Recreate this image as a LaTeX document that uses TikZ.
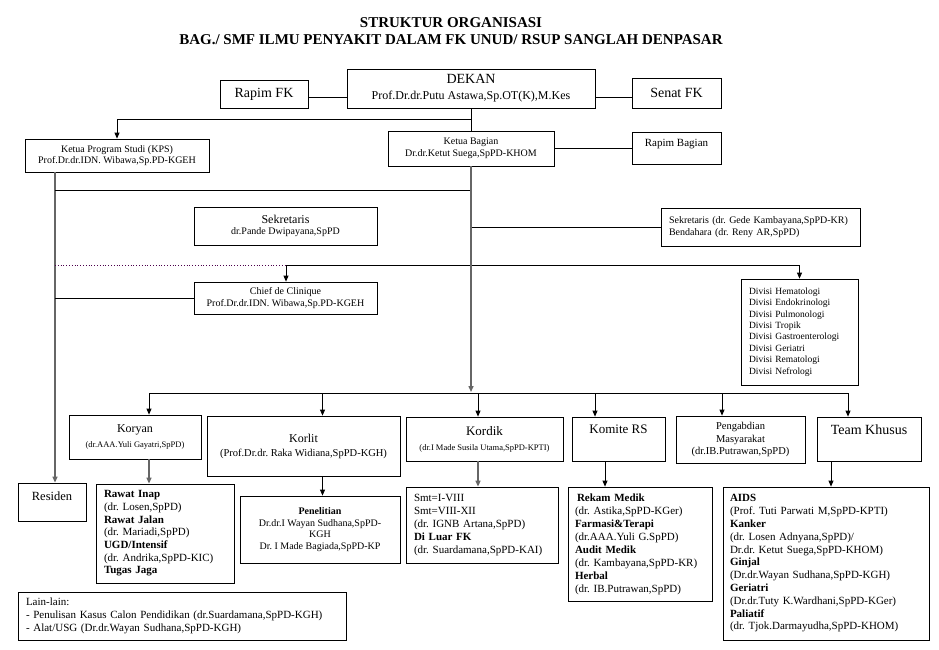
\documentclass[tikz,border=0pt]{standalone}
\usepackage{fontspec}
\setmainfont{Liberation Serif}
\usetikzlibrary{arrows.meta,positioning}
\frenchspacing

\tikzset{
  box/.style={draw, line width=0.8pt, inner sep=2pt, align=center, font=\fontsize{10}{11.7}\selectfont},
  lbox/.style={box, align=left, text width=#1},
  link/.style={line width=0.8pt},
  arr/.style={-{Triangle[length=6pt,width=5pt]}},
  trunk/.style={line width=1.4pt, draw=gray!80!black, fill=gray!80!black},
  dotline/.style={line width=0.8pt, dotted, draw=violet!60!black},
}

\begin{document}
\begin{tikzpicture}[x=1pt,y=-1pt]
  \useasboundingbox (0,0) rectangle (939,649);

  \node[font=\bfseries\fontsize{15}{17}\selectfont, align=center] (title) at (451,31)
    {STRUKTUR ORGANISASI\\BAG./ SMF ILMU PENYAKIT DALAM FK UNUD/ RSUP SANGLAH DENPASAR};

  \node[box, font=\fontsize{14}{16}\selectfont, minimum width=88pt, minimum height=28pt] (rapimfk) at (264,94) {Rapim FK};
  \node[box, font=\fontsize{14}{16}\selectfont, minimum width=248pt, minimum height=39pt] (dekan) at (471,88.5)
    {DEKAN\\{\fontsize{12}{14}\selectfont Prof.Dr.dr.Putu Astawa,Sp.OT(K),M.Kes}};
  \node[box, font=\fontsize{14}{16}\selectfont, minimum width=89pt, minimum height=30pt] (senatfk) at (676.5,93) {Senat FK};

  \node[box, minimum width=184pt, minimum height=33pt] (kps) at (117,155.5)
    {Ketua Program Studi (KPS)\\Prof.Dr.dr.IDN. Wibawa,Sp.PD-KGEH};
  \node[box, minimum width=166pt, minimum height=35pt] (ketua) at (471,148.5)
    {Ketua Bagian\\Dr.dr.Ketut Suega,SpPD-KHOM};
  \node[box, minimum width=89pt, minimum height=32pt,
    label={[anchor=north,yshift=-4pt]north:\fontsize{11}{13}\selectfont Rapim Bagian}] (rapimbag) at (676.5,148) {};

  \node[box, minimum width=183pt, minimum height=38pt] (sekre) at (285.5,226)
    {{\fontsize{12}{14}\selectfont Sekretaris}\\dr.Pande Dwipayana,SpPD};
  \node[lbox=183pt, minimum width=199pt, minimum height=38pt] (sekbend) at (760.5,227)
    {Sekretaris (dr. Gede Kambayana,SpPD-KR)\\Bendahara (dr. Reny AR,SpPD)};

  \node[box, minimum width=183pt, minimum height=32pt] (chief) at (285.5,298)
    {Chief de Clinique\\Prof.Dr.dr.IDN. Wibawa,Sp.PD-KGEH};
  \node[lbox=101pt, font=\fontsize{9.5}{11.4}\selectfont, minimum width=117pt, minimum height=106pt] (divisi) at (799.5,332)
    {Divisi Hematologi\\Divisi Endokrinologi\\Divisi Pulmonologi\\Divisi Tropik\\Divisi Gastroenterologi\\Divisi Geriatri\\Divisi Rematologi\\Divisi Nefrologi};

  \node[box, font=\fontsize{12}{14}\selectfont, minimum width=132pt, minimum height=44pt] (koryan) at (135,437)
    {Koryan\\[1pt]{\fontsize{8.5}{10}\selectfont (dr.AAA.Yuli Gayatri,SpPD)}};
  \node[box, font=\fontsize{12}{14}\selectfont, minimum width=193pt, minimum height=60pt] (korlit) at (303.5,446)
    {Korlit\\{\fontsize{10.5}{12}\selectfont (Prof.Dr.dr. Raka Widiana,SpPD-KGH)}};
  \node[box, font=\fontsize{13}{15}\selectfont, minimum width=157pt, minimum height=44pt] (kordik) at (484.5,439)
    {Kordik\\{\fontsize{8.5}{10}\selectfont (dr.I Made Susila Utama,SpPD-KPTI)}};
  \node[box, minimum width=93pt, minimum height=44pt,
    label={[anchor=north,yshift=-5pt]north:\fontsize{13}{15}\selectfont Komite RS}] (komite) at (618.5,439) {};
  \node[box, font=\fontsize{10.5}{12.5}\selectfont, minimum width=129pt, minimum height=47pt] (pengabdian) at (740.5,439.5)
    {Pengabdian\\Masyarakat\\(dr.IB.Putrawan,SpPD)};
  \node[box, minimum width=104pt, minimum height=44pt,
    label={[anchor=north,yshift=-5pt]north:\fontsize{14}{16}\selectfont Team Khusus}] (team) at (869,439) {};

  \node[box, minimum width=68pt, minimum height=38pt,
    label={[anchor=north,yshift=-6pt]north:\fontsize{12.5}{15}\selectfont Residen}] (residen) at (52,502) {};
  \node[lbox=122pt, font=\fontsize{11}{12.7}\selectfont, minimum width=138pt, minimum height=99pt] (rawat) at (165,533.5)
    {\textbf{Rawat Inap}\\(dr. Losen,SpPD)\\\textbf{Rawat Jalan}\\(dr. Mariadi,SpPD)\\\textbf{UGD/Intensif}\\(dr. Andrika,SpPD-KIC)\\\textbf{Tugas Jaga}};
  \node[box, minimum width=160pt, minimum height=67pt] (penelitian) at (320,529.5)
    {\textbf{Penelitian}\\Dr.dr.I Wayan Sudhana,SpPD-\\KGH\\Dr. I Made Bagiada,SpPD-KP};
  \node[lbox=136pt, font=\fontsize{11}{12.9}\selectfont, minimum width=152pt, minimum height=76pt] (smt) at (482,525)
    {Smt=I-VIII\\Smt=VIII-XII\\(dr. IGNB Artana,SpPD)\\\textbf{Di Luar FK}\\(dr. Suardamana,SpPD-KAI)};
  \node[lbox=130pt, font=\fontsize{11}{13}\selectfont, minimum width=144pt, minimum height=114pt] (rekam) at (640,544)
    {\hspace{2pt}\textbf{Rekam Medik}\\(dr. Astika,SpPD-KGer)\\\textbf{Farmasi\&Terapi}\\(dr.AAA.Yuli G.SpPD)\\\textbf{Audit Medik}\\(dr. Kambayana,SpPD-KR)\\\textbf{Herbal}\\(dr. IB.Putrawan,SpPD)};
  \node[lbox=192pt, font=\fontsize{11}{12.8}\selectfont, minimum width=206pt, minimum height=153pt] (aids) at (826,563.5)
    {\textbf{AIDS}\\(Prof. Tuti Parwati M,SpPD-KPTI)\\\textbf{Kanker}\\(dr. Losen Adnyana,SpPD)/\\Dr.dr. Ketut Suega,SpPD-KHOM)\\\textbf{Ginjal}\\(Dr.dr.Wayan Sudhana,SpPD-KGH)\\\textbf{Geriatri}\\(Dr.dr.Tuty K.Wardhani,SpPD-KGer)\\\textbf{Paliatif}\\(dr. Tjok.Darmayudha,SpPD-KHOM)};
  \node[lbox=312pt, font=\fontsize{11}{13}\selectfont, minimum width=328pt, minimum height=48pt] (lain) at (182,616)
    {Lain-lain:\\- Penulisan Kasus Calon Pendidikan (dr.Suardamana,SpPD-KGH)\\- Alat/USG (Dr.dr.Wayan Sudhana,SpPD-KGH)};

  \coordinate (lft) at (55,190);
  \coordinate (j1) at (471,119);
  \coordinate (j2) at (286,265);
  \coordinate (bus) at (471,392);
  \coordinate (b1) at (149,393);
  \coordinate (b2) at (322.5,393);
  \coordinate (b3) at (478,393);
  \coordinate (b4) at (595,393);
  \coordinate (b5) at (722,393);
  \coordinate (b6) at (848,393);
  \coordinate (d4) at (605,470);
  \coordinate (d6) at (831,470);

  \draw[link] ([yshift=-3pt]rapimfk.east) -- ([yshift=-3pt]rapimfk.east -| dekan.west);
  \draw[link] ([yshift=-4pt]senatfk.west) -- ([yshift=-4pt]senatfk.west -| dekan.east);
  \draw[link] (dekan.south) -- (ketua.north);
  \draw[link, arr] (j1) -| (kps.north);
  \draw[link] (ketua.east) -- (ketua.east -| rapimbag.west);

  \draw[trunk, arr] (kps.south -| lft) -- (residen.north -| lft);
  \draw[link] (lft) -- (lft -| ketua.south);
  \draw[link] (sekbend.west) -- (sekbend.west -| ketua.south);
  \draw[dotline] (j2 -| lft) -- (j2);
  \draw[link, arr] (j2) -- (j2 |- chief.north);
  \draw[link, arr] (j2) -| (divisi.north);
  \draw[link] (chief.west) -- (chief.west -| lft);

  \draw[trunk, arr] (ketua.south) -- (bus);
  \draw[link] (b1) -- (b6);
  \draw[link, arr] (b1) -- (b1 |- koryan.north);
  \draw[link, arr] (b2) -- (b2 |- korlit.north);
  \draw[link, arr] (b3) -- (b3 |- kordik.north);
  \draw[link, arr] (b4) -- (b4 |- komite.north);
  \draw[link, arr] (b5) -- (b5 |- pengabdian.north);
  \draw[link, arr] (b6) -- (b6 |- team.north);

  \draw[trunk, arr] (koryan.south -| b1) -- (rawat.north -| b1);
  \draw[link, arr] (korlit.south -| b2) -- (penelitian.north -| b2);
  \draw[trunk, arr] (kordik.south -| b3) -- (smt.north -| b3);
  \draw[link, arr] (komite.south -| d4) -- (rekam.north -| d4);
  \draw[link, arr] (team.south -| d6) -- (aids.north -| d6);
\end{tikzpicture}
\end{document}
